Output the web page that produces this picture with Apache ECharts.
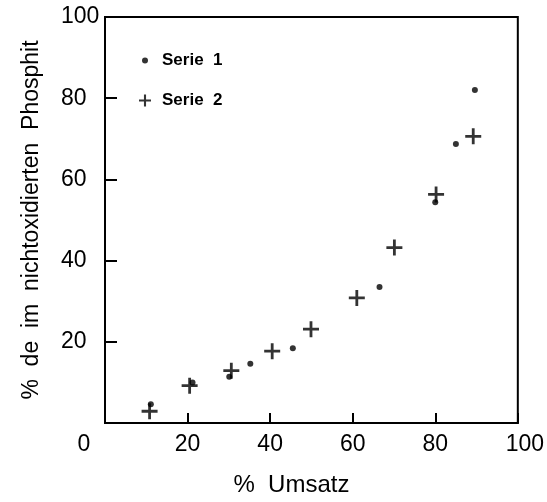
<!DOCTYPE html>
<html>
<head>
<meta charset="utf-8">
<script src="https://cdn.jsdelivr.net/npm/echarts@6/dist/echarts.min.js"></script>
<style>
html,body{margin:0;padding:0;background:#fff;}
#chart{width:547px;height:502px;}
</style>
</head>
<body>
<div id="chart"></div>
<script>
// Data
var serie1X = [11.1, 21.2, 30.1, 35.2, 45.5, 66.5, 80.0, 85.0, 89.6];
var serie1Y = [4.6, 10.0, 11.4, 14.6, 18.4, 33.5, 54.4, 68.7, 82.0];
var serie2X = [10.8, 20.5, 30.6, 40.5, 49.9, 61.0, 70.1, 80.2, 89.2];
var serie2Y = [2.9, 9.2, 12.9, 17.7, 23.1, 30.8, 43.2, 56.3, 70.6];
var seriesNames = ['Serie  1', 'Serie  2'];
var xTitle = '%  Umsatz';
var yTitle = '%  de  im  nichtoxidierten  Phosphit';

var FONT = 'Liberation Sans, Arial, sans-serif';
var plusPath = 'path://M-1.4,-8 L1.4,-8 L1.4,-1.4 L8,-1.4 L8,1.4 L1.4,1.4 L1.4,8 L-1.4,8 L-1.4,1.4 L-8,1.4 L-8,-1.4 L-1.4,-1.4 Z';

function pairs(xs, ys){ return xs.map(function(x,i){ return [x, ys[i]]; }); }

function legendText(pad){
  return {
    formatter:function(n){ return '{t|' + n + '}'; },
    textStyle:{fontFamily:FONT, fontSize:17, fontWeight:'bold', color:'#000',
      rich:{t:{fontFamily:FONT, fontSize:17, fontWeight:'bold', color:'#000', padding:[0,0,0,pad]}}}
  };
}

var lg1 = Object.assign({data:[{name:seriesNames[0], icon:'circle'}], left:142, top:52, itemWidth:6, itemHeight:6,
  itemGap:0, padding:0, selectedMode:false}, legendText(9));
var lg2 = Object.assign({data:[{name:seriesNames[1], icon:plusPath}], left:139, top:92, itemWidth:12, itemHeight:12,
  itemGap:0, padding:0, selectedMode:false}, legendText(6));

var chart = echarts.init(document.getElementById('chart'), null, {renderer:'canvas'});
chart.setOption({
  backgroundColor:'#fff',
  animation:false,
  textStyle:{fontFamily:FONT, color:'#000'},
  grid:{left:105, right:27, top:17, bottom:73, show:true, borderColor:'#000', borderWidth:2, backgroundColor:'transparent'},
  legend:[lg1, lg2],
  xAxis:{
    type:'value', min:0, max:100, interval:20,
    name:xTitle, nameLocation:'middle', nameGap:50,
    nameTextStyle:{fontFamily:FONT, fontSize:24, color:'#000', padding:[0,40,0,0]},
    axisLine:{show:true, lineStyle:{color:'#000', width:2}},
    axisTick:{show:true, inside:true, length:10, lineStyle:{color:'#000', width:2}},
    splitLine:{show:false},
    axisLabel:{
      fontFamily:FONT, fontSize:23, color:'#000', margin:10,
      formatter:function(v){ if(v===0) return '{z|0}'; if(v===100) return '{h|100}'; return String(v); },
      rich:{z:{fontFamily:FONT, fontSize:23, color:'#000', padding:[0,42,0,0]},
            h:{fontFamily:FONT, fontSize:23, color:'#000', padding:[0,0,0,14]}}
    }
  },
  yAxis:{
    type:'value', min:0, max:100, interval:20,
    name:yTitle, nameLocation:'middle', nameGap:62, nameRotate:90,
    nameTextStyle:{fontFamily:FONT, fontSize:23, color:'#000'},
    axisLine:{show:true, lineStyle:{color:'#000', width:2}},
    axisTick:{show:true, inside:true, length:12, lineStyle:{color:'#000', width:2}},
    splitLine:{show:false},
    axisLabel:{fontFamily:FONT, fontSize:23, color:'#000', align:'left', margin:44,
      formatter:function(v){ return v===0 ? '' : String(v); }}
  },
  series:[
    {name:seriesNames[0], type:'scatter', symbol:'circle', symbolSize:6,
     itemStyle:{color:'#000'}, data:pairs(serie1X, serie1Y)},
    {name:seriesNames[1], type:'scatter', symbol:plusPath, symbolSize:16,
     itemStyle:{color:'#000'}, data:pairs(serie2X, serie2Y)}
  ]
});
</script>
</body>
</html>
